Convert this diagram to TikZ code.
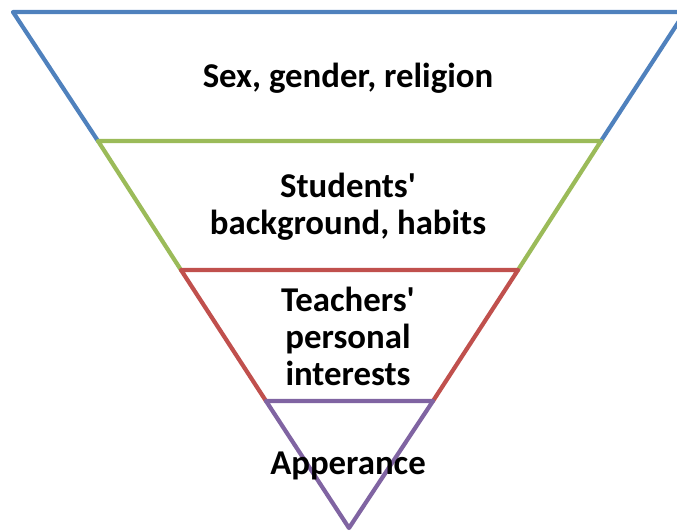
\documentclass[tikz,border=0pt]{standalone}
\usepackage{fontspec}
\setmainfont{Carlito}
\definecolor{cblue}{HTML}{4F81BD}
\definecolor{cgreen}{HTML}{9BBB59}
\definecolor{cred}{HTML}{C0504D}
\definecolor{cpurple}{HTML}{8064A2}
\begin{document}
\begin{tikzpicture}[x=1pt,y=-1pt,
  seg/.style={line width=4.2pt, line cap=round, line join=round},
  lbl/.style={font=\fontsize{34.8}{37}\selectfont\bfseries, align=center, inner sep=0pt}]
\useasboundingbox (0,0) rectangle (677,531);
\clip (0,0) rectangle (677,531);
% level coordinates
\coordinate (A) at (349,528);
\coordinate (L1) at (13,12);   \coordinate (R1) at (685,12);
\coordinate (L2) at (98,141);  \coordinate (R2) at (601,141);
\coordinate (L3) at (181,270); \coordinate (R3) at (518,270);
\coordinate (L4) at (266,401); \coordinate (R4) at (433,401);
% blue
\draw[seg, cblue] (L2) -- (L1) -- (R1) -- (R2);
% green
\draw[seg, cgreen] (L3) -- (L2) -- (R2) -- (R3);
% red
\draw[seg, cred] (L4) -- (L3) -- (R3) -- (R4);
% purple
\draw[seg, cpurple] (A) -- (L4) -- (R4) -- cycle;
% labels
\node[lbl] (t1) at (348,78) {Sex, gender, religion};
\node[lbl] (t2) at (348,207) {Students\textquotesingle\\background, habits};
\node[lbl] (t3) at (348,336) {Teachers\textquotesingle\\personal\\interests};
\node[lbl] (t4) at (348,466) {Apperance};
\end{tikzpicture}
\end{document}
